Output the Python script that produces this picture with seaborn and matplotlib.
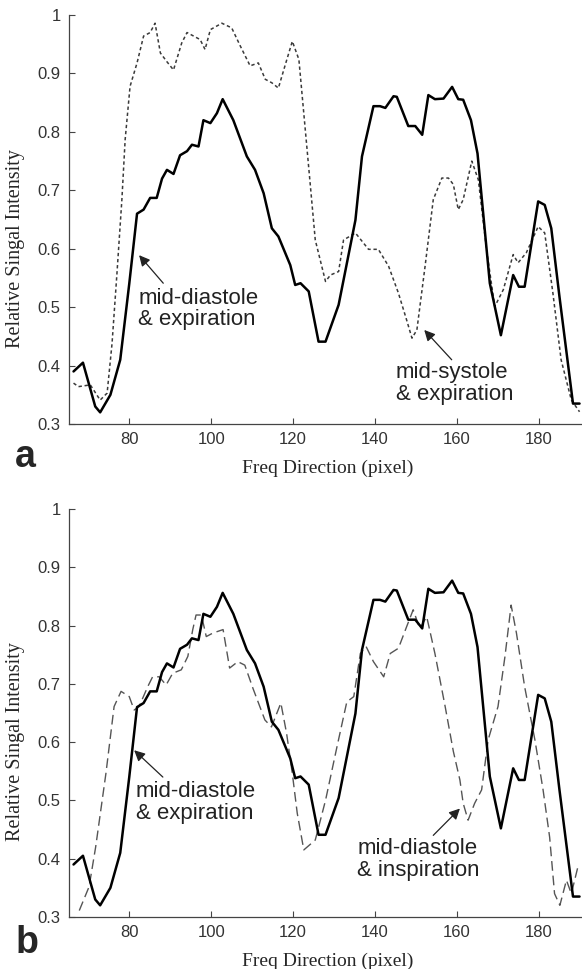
"""Two-panel signal intensity profile along the frequency direction (a: systole vs diastole, b: expiration vs inspiration)."""

import matplotlib.pyplot as plt
import pandas as pd
import seaborn as sns

# mid-diastole & expiration (solid, shown in both panels)
diast_exp_x = [66.4, 68.7, 71.7, 72.9, 75.4, 77.8, 80.0, 81.9, 83.5, 85.1, 86.7, 88.0, 89.2, 90.8,
               92.4, 94.1, 95.3, 96.9, 98.1, 99.8, 101.4, 102.8, 105.4, 108.7, 110.7, 112.8, 114.8,
               116.4, 119.3, 120.5, 121.8, 123.8, 126.2, 127.9, 131.1, 135.2, 136.8, 139.6, 141.2,
               142.5, 144.5, 145.3, 148.1, 149.8, 151.5, 153.0, 154.6, 156.7, 158.8, 160.3, 161.5,
               163.4, 165.0, 168.0, 170.7, 173.7, 175.1, 176.5, 179.8, 181.4, 183.0, 185.0, 188.3, 189.9]
diast_exp_y = [0.39, 0.405, 0.33, 0.32, 0.35, 0.41, 0.54, 0.66, 0.667, 0.687, 0.687, 0.72, 0.735, 0.728,
               0.76, 0.767, 0.778, 0.775, 0.82, 0.815, 0.832, 0.856, 0.82, 0.758, 0.735, 0.695, 0.635,
               0.621, 0.572, 0.538, 0.541, 0.527, 0.441, 0.441, 0.504, 0.649, 0.758, 0.844, 0.844,
               0.841, 0.861, 0.86, 0.81, 0.81, 0.795, 0.863, 0.856, 0.857, 0.877, 0.856, 0.855,
               0.82, 0.763, 0.541, 0.452, 0.555, 0.535, 0.535, 0.681, 0.675, 0.635, 0.518, 0.335, 0.335]

# mid-systole & expiration (dotted, panel a)
syst_exp_x = [66.4, 67.6, 70.5, 72.9, 74.6, 75.8, 77.0, 78.2, 79.0, 80.2, 81.9, 83.5, 85.1, 86.3, 87.6,
              89.2, 90.8, 92.8, 94.1, 95.7, 97.3, 98.5, 99.8, 102.6, 105.0, 107.1, 109.5, 111.5, 113.2,
              114.8, 116.4, 118.0, 119.8, 121.4, 123.4, 125.4, 127.9, 129.1, 131.1, 132.3, 135.2, 138.4,
              140.8, 143.3, 145.7, 147.7, 149.0, 150.2, 152.2, 154.2, 156.3, 157.9, 159.1, 160.3, 161.5,
              163.6, 165.2, 167.2, 169.2, 171.3, 173.7, 174.9, 176.9, 178.2, 179.8, 181.4, 183.4, 185.4,
              187.9, 189.9]
syst_exp_y = [0.37, 0.364, 0.367, 0.341, 0.353, 0.438, 0.558, 0.684, 0.787, 0.878, 0.918, 0.964, 0.97,
              0.986, 0.935, 0.92, 0.906, 0.952, 0.97, 0.964, 0.958, 0.941, 0.975, 0.986, 0.978, 0.947,
              0.913, 0.918, 0.89, 0.884, 0.875, 0.913, 0.955, 0.924, 0.77, 0.615, 0.544, 0.555, 0.561,
              0.615, 0.627, 0.599, 0.599, 0.57, 0.524, 0.478, 0.447, 0.461, 0.57, 0.684, 0.721, 0.721,
              0.71, 0.667, 0.684, 0.75, 0.718, 0.599, 0.501, 0.53, 0.59, 0.576, 0.593, 0.613, 0.638,
              0.627, 0.524, 0.41, 0.341, 0.321]

# mid-diastole & inspiration (dashed, panel b)
diast_insp_x = [67.8, 70.2, 71.8, 74.3, 76.3, 78.0, 80.0, 81.2, 82.4, 84.5, 85.7, 87.3, 89.0, 90.6,
                92.7, 94.3, 95.5, 96.3, 97.6, 98.8, 100.4, 102.9, 104.5, 106.5, 108.2, 110.2, 113.1,
                114.7, 117.0, 118.4, 119.8, 121.0, 122.6, 125.4, 127.9, 130.7, 133.1, 134.8, 136.4,
                137.8, 139.6, 142.1, 143.7, 145.7, 147.7, 149.3, 150.9, 152.6, 154.6, 157.1, 159.1,
                160.7, 161.5, 162.7, 164.3, 166.0, 167.6, 170.0, 171.7, 173.2, 174.5, 176.5, 179.0,
                181.0, 182.6, 183.8, 185.1, 186.7, 187.9, 189.5]
diast_insp_y = [0.311, 0.352, 0.42, 0.546, 0.661, 0.687, 0.678, 0.655, 0.661, 0.695, 0.712, 0.712,
                0.698, 0.718, 0.724, 0.747, 0.793, 0.818, 0.818, 0.781, 0.787, 0.793, 0.727, 0.738,
                0.732, 0.692, 0.638, 0.626, 0.667, 0.615, 0.546, 0.478, 0.415, 0.432, 0.5, 0.592,
                0.669, 0.678, 0.752, 0.764, 0.738, 0.712, 0.752, 0.761, 0.798, 0.827, 0.795, 0.815,
                0.752, 0.661, 0.584, 0.535, 0.495, 0.466, 0.495, 0.518, 0.604, 0.661, 0.747, 0.835,
                0.787, 0.695, 0.604, 0.518, 0.437, 0.34, 0.32, 0.363, 0.34, 0.386]

x_ticks = [80, 100, 120, 140, 160, 180]
y_ticks = [0.3, 0.4, 0.5, 0.6, 0.7, 0.8, 0.9, 1.0]
y_tick_labels = ["0.3", "0.4", "0.5", "0.6", "0.7", "0.8", "0.9", "1"]

sns.set_style("ticks")
plt.rcParams["font.family"] = ["Liberation Sans", "DejaVu Sans"]

solid = pd.DataFrame({"x": diast_exp_x, "y": diast_exp_y})
dotted = pd.DataFrame({"x": syst_exp_x, "y": syst_exp_y})
dashed = pd.DataFrame({"x": diast_insp_x, "y": diast_insp_y})

fig = plt.figure(figsize=(5.82, 9.69), dpi=100)
ax_a = fig.add_axes([0.1186, 0.5624, 0.8814, 0.4221])
ax_b = fig.add_axes([0.1186, 0.0537, 0.8814, 0.4211])

sns.lineplot(data=dotted, x="x", y="y", ax=ax_a, color="#3a3a3a", linewidth=1.1,
             linestyle=(0, (2.2, 1.8)), sort=False)
sns.lineplot(data=solid, x="x", y="y", ax=ax_a, color="black", linewidth=1.8, sort=False)

sns.lineplot(data=dashed, x="x", y="y", ax=ax_b, color="#555555", linewidth=1.0,
             linestyle=(0, (7, 3.5)), sort=False)
sns.lineplot(data=solid, x="x", y="y", ax=ax_b, color="black", linewidth=1.8, sort=False)

arrow = dict(arrowstyle="-|>", color="#222222", lw=0.9, mutation_scale=16, shrinkA=0, shrinkB=0)
note_kw = dict(fontsize=16, linespacing=1.05, color="#222222", va="center", ha="left")

ax_a.annotate("", xy=(82.4, 0.589), xytext=(88.3, 0.541), arrowprops=arrow)
ax_a.text(82.2, 0.497, "mid-diastole\n& expiration", **note_kw)
ax_a.annotate("", xy=(152.0, 0.461), xytext=(158.7, 0.41), arrowprops=arrow)
ax_a.text(145.1, 0.369, "mid-systole\n& expiration", **note_kw)

ax_b.annotate("", xy=(81.2, 0.586), xytext=(88.2, 0.54), arrowprops=arrow)
ax_b.text(81.6, 0.497, "mid-diastole\n& expiration", **note_kw)
ax_b.annotate("", xy=(160.7, 0.486), xytext=(154.2, 0.44), arrowprops=arrow)
ax_b.text(135.7, 0.399, "mid-diastole\n& inspiration", **note_kw)

for ax in (ax_a, ax_b):
    ax.set_xlim(65.3, 190.5)
    ax.set_ylim(0.3, 1.0)
    ax.set_xticks(x_ticks)
    ax.set_yticks(y_ticks)
    ax.set_yticklabels(y_tick_labels)
    ax.tick_params(direction="in", length=4, width=0.8, color="#444444",
                   labelsize=12, labelcolor="#333333", pad=6)
    for side in ("top", "right"):
        ax.spines[side].set_visible(False)
    for side in ("left", "bottom"):
        ax.spines[side].set_color("#444444")
        ax.spines[side].set_linewidth(0.9)
    ax.set_xlabel("Freq Direction (pixel)", family=["Liberation Serif", "DejaVu Serif"], fontsize=14)
    ax.set_ylabel("Relative Singal Intensity", family=["Liberation Serif", "DejaVu Serif"], fontsize=14.5)
    ax.xaxis.set_label_coords(0.505, -0.088)
    ax.yaxis.set_label_coords(-0.086, 0.43)

fig.text(0.026, 0.518, "a", fontsize=27, fontweight="bold", ha="left", va="baseline")
fig.text(0.026, 0.0165, "b", fontsize=27, fontweight="bold", ha="left", va="baseline")

fig.savefig("out.png", dpi=100)
plt.close(fig)
